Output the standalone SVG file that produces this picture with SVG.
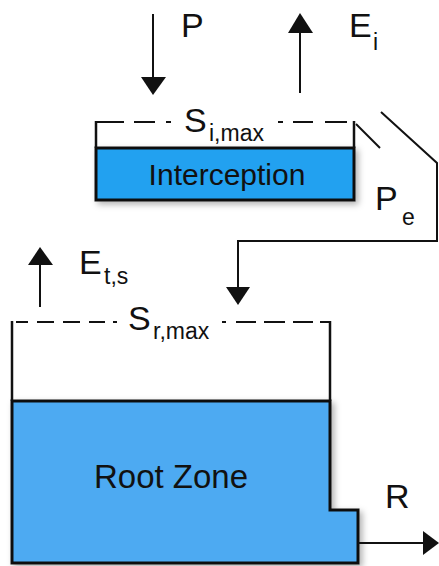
<svg xmlns="http://www.w3.org/2000/svg" width="439" height="566" viewBox="0 0 439 566">
<defs>
<style>
text{font-family:"Liberation Sans",Arial,sans-serif;fill:#111}
.lab{font-size:34px}
.sub{font-size:23px}
.ln{stroke:#111;stroke-width:2;fill:none}
.dash{stroke:#111;stroke-width:2;fill:none}
.wall{stroke:#111;stroke-width:2.5;fill:none}
</style>
<filter id="sh" x="-10%" y="-10%" width="130%" height="140%">
<feDropShadow dx="3" dy="3" stdDeviation="3" flood-color="#000" flood-opacity="0.3"/>
</filter>
</defs>
<g id="interception">
<rect x="96" y="148" width="258" height="52" fill="#22a1f0" stroke="#111" stroke-width="3" filter="url(#sh)"/>
<path class="wall" d="M96,121 V148 M354,121 V148"/>
<path class="dash" d="M97,122 H124 M134,122 H155 M166,122 H171 M278,122 H283 M293,122 H313 M325,122 H347"/>
<text class="lab" x="184" y="132">S</text>
<text class="sub" x="209" y="141">i,max</text>
<text x="227" y="185" font-size="30" text-anchor="middle">Interception</text>
</g>
<g id="rootzone">
<path d="M12,401 H330 V510 H358 V563 H12 Z" fill="#4eaaf2" stroke="#111" stroke-width="3" filter="url(#sh)"/>
<path class="wall" d="M12,321 V401 M330,321 V401"/>
<path class="dash" d="M16,322 H28 M37,322 H54 M63,322 H80 M89,322 H105 M113,322 H117 M222,322 H226 M236,322 H256 M264,322 H285 M293,322 H313 M320,322 H330"/>
<text class="lab" x="128" y="330">S</text>
<text class="sub" x="153" y="339">r,max</text>
<text x="171" y="488" font-size="33" text-anchor="middle">Root Zone</text>
</g>
<g id="connectors">
<path d="M153,14 V78" class="ln"/>
<path d="M141,77 H166 L153,95 Z" fill="#111"/>
<path d="M300,93 V32" class="ln"/>
<path d="M288,33 H313 L300,13 Z" fill="#111"/>
<path d="M356,124 L380,148" class="ln"/>
<path d="M381,112 L437,163 V241 H238 V288" class="ln"/>
<path d="M226,287 H250 L238,305 Z" fill="#111"/>
<path d="M40,307 V264" class="ln"/>
<path d="M28,265 H53 L40,247 Z" fill="#111"/>
<path d="M358,543 H424" class="ln"/>
<path d="M423,531 V555 L439,543 Z" fill="#111"/>
</g>
<g id="labels">
<text class="lab" x="181" y="37">P</text>
<text class="lab" x="349" y="37">E</text>
<text class="sub" x="373" y="50">i</text>
<text class="lab" x="375" y="210">P</text>
<text class="sub" x="402" y="225">e</text>
<text class="lab" x="79" y="274">E</text>
<text class="sub" x="104" y="284">t,s</text>
<text class="lab" x="385" y="508">R</text>
</g>
</svg>
